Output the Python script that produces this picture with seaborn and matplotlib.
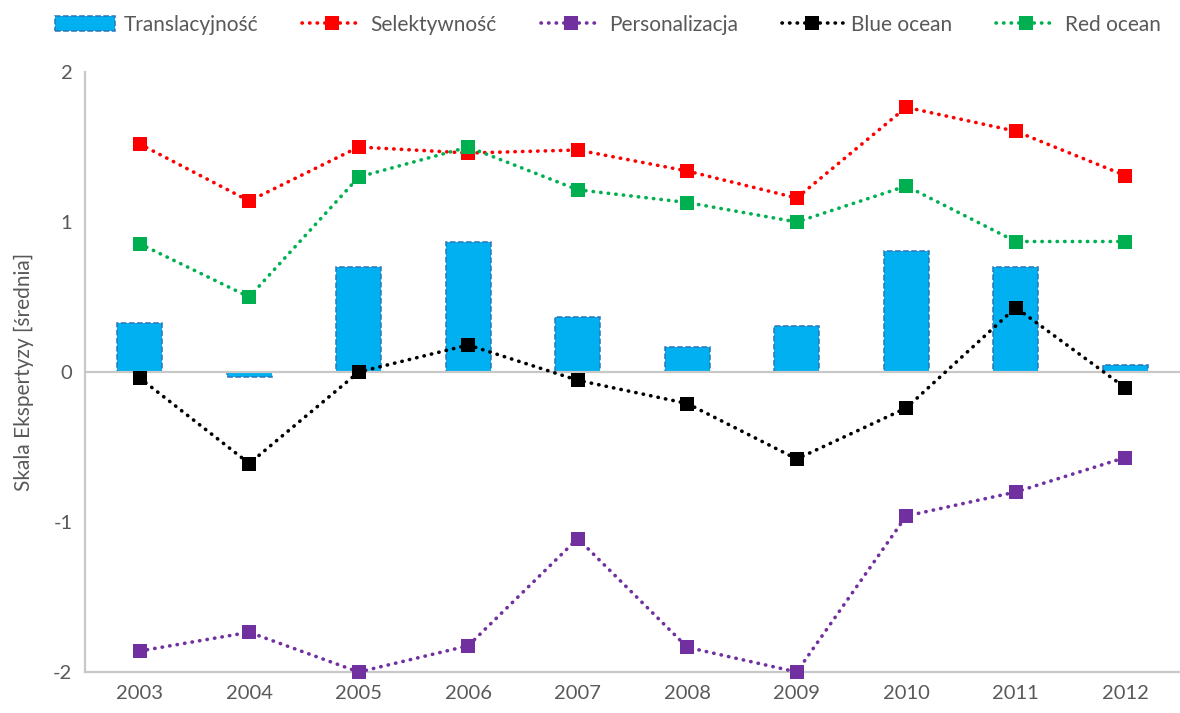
import matplotlib
matplotlib.use("Agg")
import matplotlib.pyplot as plt
import seaborn as sns
import pandas as pd
import numpy as np

years = ["2003", "2004", "2005", "2006", "2007", "2008", "2009", "2010", "2011", "2012"]
translacyjnosc = [0.33, -0.03, 0.70, 0.865, 0.365, 0.165, 0.31, 0.81, 0.70, 0.05]
selektywnosc = [1.52, 1.14, 1.50, 1.46, 1.48, 1.34, 1.16, 1.765, 1.605, 1.31]
personalizacja = [-1.86, -1.735, -2.00, -1.825, -1.11, -1.835, -2.00, -0.96, -0.80, -0.57]
blue_ocean = [-0.04, -0.61, 0.00, 0.18, -0.055, -0.21, -0.58, -0.24, 0.43, -0.105]
red_ocean = [0.855, 0.50, 1.30, 1.50, 1.215, 1.13, 1.00, 1.24, 0.87, 0.87]
y_ticks = [-2, -1, 0, 1, 2]

sns.set_theme(style="white")
plt.rcParams["font.family"] = ["Lato", "DejaVu Sans"]
text_color = "#595959"
axis_color = "#C8C8C8"

fig = plt.figure(figsize=(11.8, 7.13), dpi=100)
ax = fig.add_axes([0.072, 0.0575, 0.928, 0.8415])

bars_df = pd.DataFrame({"year": years, "value": translacyjnosc})
sns.barplot(data=bars_df, x="year", y="value", ax=ax, color="#00B0F0",
            saturation=1, width=0.41, edgecolor="#2E75B6", linewidth=1.1,
            linestyle="--", label="Translacyjność")

series = [
    ("Selektywność", selektywnosc, "#FF0000"),
    ("Personalizacja", personalizacja, "#7030A0"),
    ("Blue ocean", blue_ocean, "#000000"),
    ("Red ocean", red_ocean, "#00B050"),
]
pos = np.arange(len(years))
for name, vals, col in series:
    df = pd.DataFrame({"x": pos, "y": vals})
    sns.lineplot(data=df, x="x", y="y", ax=ax, color=col, linewidth=2.6,
                 linestyle=(0, (0.1, 2.0)), dash_capstyle="round",
                 marker="s", markersize=10, markeredgewidth=0,
                 label=name, clip_on=False, zorder=4)

ax.axhline(0, color=axis_color, linewidth=1.6, zorder=1)
ax.set_xlim(-0.5, len(years) - 0.5)
ax.set_ylim(-2, 2)
ax.set_yticks(y_ticks)
ax.set_yticklabels([str(t) for t in y_ticks])
ax.set_xlabel("")
ax.set_ylabel("Skala Ekspertyzy [średnia]", color=text_color, fontsize=15, labelpad=14)
ax.tick_params(axis="both", length=0, labelsize=14.5, colors=text_color, pad=9)
for s in ["top", "right"]:
    ax.spines[s].set_visible(False)
for s in ["left", "bottom"]:
    ax.spines[s].set_color(axis_color)
    ax.spines[s].set_linewidth(1.6)

handles, labels = ax.get_legend_handles_labels()
order = [labels.index(n) for n in ["Translacyjność", "Selektywność", "Personalizacja",
                                   "Blue ocean", "Red ocean"]]
ax.legend([handles[i] for i in order], [labels[i] for i in order],
          loc="upper center", bbox_to_anchor=(0.515, 1.0),
          bbox_transform=fig.transFigure, ncol=5, frameon=False,
          fontsize=15, labelcolor=text_color, handlelength=2.9,
          columnspacing=2.1, handletextpad=0.4, borderaxespad=0.3)

fig.savefig("out.png", dpi=100)
